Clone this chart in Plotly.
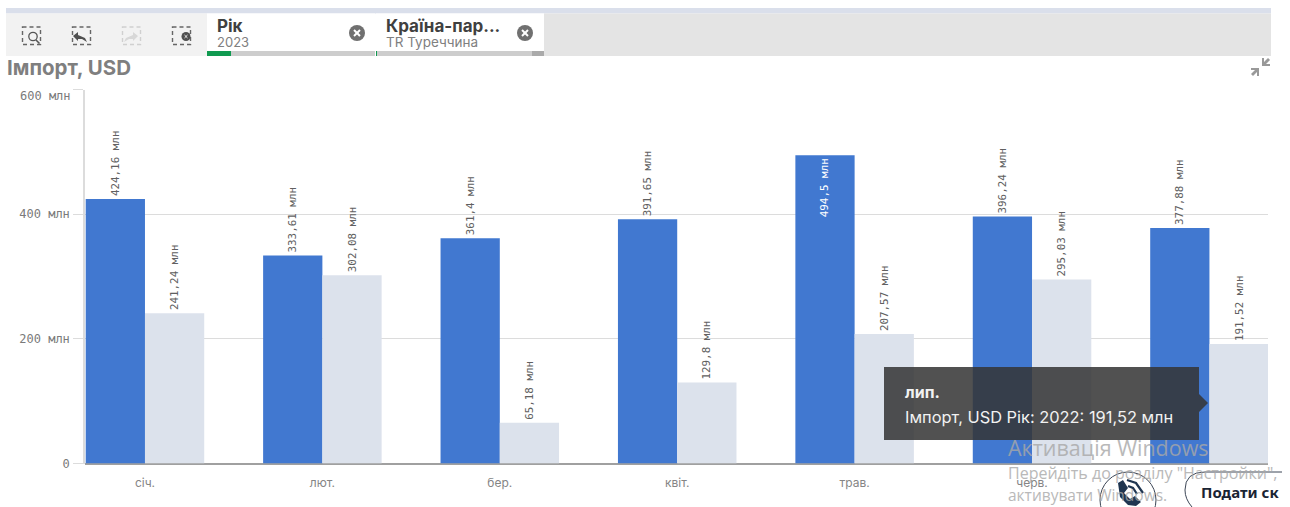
import plotly.graph_objects as go

W, H = 1290, 507

months = ["січ.", "лют.", "бер.", "квіт.", "трав.", "черв.", "лип."]
visible_months = ["січ.", "лют.", "бер.", "квіт.", "трав.", "черв."]
import_2023 = [424.16, 333.61, 361.4, 391.65, 494.5, 396.24, 377.88]
import_2022 = [241.24, 302.08, 65.18, 129.8, 207.57, 295.03, 191.52]
labels_2023 = ["424,16 млн", "333,61 млн", "361,4 млн", "391,65 млн", "494,5 млн", "396,24 млн", "377,88 млн"]
labels_2022 = ["241,24 млн", "302,08 млн", "65,18 млн", "129,8 млн", "207,57 млн", "295,03 млн", "191,52 млн"]
y_ticks = [0, 200, 400, 600]
y_tick_labels = ["0", "200 млн", "400 млн", ""]

BLUE = "#4178d0"
LIGHT = "#dce2ec"
MONO = "DejaVu Sans Mono"
SANS = "Inter"


def px(x):
    return x / W


def py(y):
    return 1 - y / H


shapes = []
annotations = []


def rect(x0, y0, x1, y1, fill, line=None, width=0, dash=None):
    shapes.append(dict(type="rect", xref="paper", yref="paper", x0=px(x0), x1=px(x1), y0=py(y0), y1=py(y1),
                       fillcolor=fill, line=dict(color=line or "rgba(0,0,0,0)", width=width, dash=dash)))


def circle(cx, cy, r, fill, line=None, width=0):
    shapes.append(dict(type="circle", xref="paper", yref="paper", x0=px(cx - r), x1=px(cx + r), y0=py(cy - r), y1=py(cy + r),
                       fillcolor=fill, line=dict(color=line or "rgba(0,0,0,0)", width=width)))


def path(points, fill=None, line=None, width=0, close=True):
    d = "M " + " L ".join(f"{px(x):.5f},{py(y):.5f}" for x, y in points) + (" Z" if close else "")
    shapes.append(dict(type="path", xref="paper", yref="paper", path=d,
                       fillcolor=fill or "rgba(0,0,0,0)", line=dict(color=line or "rgba(0,0,0,0)", width=width)))


def text(x, y, s, size, color, bold=False, family=SANS, anchor="left", opacity=1):
    annotations.append(dict(xref="paper", yref="paper", x=px(x), y=py(y), text=f"<b>{s}</b>" if bold else s,
                            showarrow=False, xanchor=anchor, yanchor="middle", opacity=opacity,
                            font=dict(size=size, color=color, family=family), borderpad=0, borderwidth=0))


# toolbar
rect(6, 8, 1271, 13.5, "#dadfeb")
rect(6, 13.5, 207, 56, "#f2f2f2")
rect(544, 13.5, 1271, 56, "#e4e4e4")
rect(207, 13.5, 375, 51, "#ffffff")
rect(376, 13.5, 544, 51, "#ffffff")
rect(207, 51, 375, 56, "#cdcdcd")
rect(376, 51, 544, 56, "#cdcdcd")
rect(207, 51, 231, 56, "#109a50")
rect(376, 51, 377, 56, "#109a50")
rect(532, 51, 544, 56, "#aaaaaa")
for x0, color in [(22.5, "#666666"), (72.5, "#666666"), (122.5, "#d0d0d0"), (172.5, "#666666")]:
    rect(x0, 27, x0 + 18, 44.5, "rgba(0,0,0,0)", color, 1.4, "4px,3px")
circle(33, 36.5, 4.2, "rgba(0,0,0,0)", "#555555", 1.3)
path([(36, 40), (39.5, 43.5)], line="#555555", width=1.6, close=False)
path([(73, 36), (78, 32), (78, 35), (85, 38), (87, 42), (82, 39), (78, 39), (78, 41)], fill="#505050")
path([(138, 36), (133, 32), (133, 35), (126, 38), (124, 42), (129, 39), (133, 39), (133, 41)], fill="#d8d8d8")
circle(186, 36.5, 4.5, "#505050")
path([(184.5, 35), (187.5, 38)], line="#f2f2f2", width=1, close=False)
path([(184.5, 38), (187.5, 35)], line="#f2f2f2", width=1, close=False)
text(217, 26, "Рік", 17, "#404040", bold=True)
text(217, 42.5, "2023", 13, "#808080")
text(386, 26, "Країна-пар...", 17, "#404040", bold=True)
text(386, 42.5, "TR Туреччина", 13.5, "#808080")
for cx in (357, 525):
    circle(cx, 33, 8, "#707070")
    path([(cx - 3, 30), (cx + 3, 36)], line="#ffffff", width=2, close=False)
    path([(cx - 3, 36), (cx + 3, 30)], line="#ffffff", width=2, close=False)

# chart title and expand icon
text(7, 67, "Імпорт, USD", 20.5, "#7f7f7f", bold=True)
path([(1262, 66), (1270, 66), (1270, 64), (1266, 64), (1270, 60), (1268, 58), (1264, 62), (1264, 58), (1262, 58)], fill="#999999")
path([(1259, 68), (1251, 68), (1251, 70), (1255, 70), (1251, 74), (1253, 76), (1257, 72), (1257, 76), (1259, 76)], fill="#999999")
text(71, 96, "600 млн", 12, "#7a7a7a", family=MONO, anchor="right")

# tooltip
rect(884, 367, 1199, 440, "rgba(52,52,52,0.86)")
path([(1199, 394), (1208, 403), (1199, 412)], fill="rgba(52,52,52,0.86)")
text(905, 392, "лип.", 16, "#f2f2f2", bold=True)
text(905, 417, "Імпорт, USD Рік: 2022: 191,52 млн", 16.4, "#f2f2f2")

# desktop overlay
text(1008, 447, "Активація Windows", 21.5, "#a8a8a8", opacity=0.8, family="Open Sans")
text(1008, 473, "Перейдіть до розділу \"Настройки\",", 16, "#a8a8a8", opacity=0.8, family="Open Sans")
text(1008, 495, "активувати Windows.", 15.5, "#a8a8a8", opacity=0.8, family="Open Sans")
circle(1128, 500, 28, "rgba(255,255,255,0)", "#3c4656", 1)
path([(1118, 483), (1123, 480), (1128, 488), (1124, 493), (1130, 499), (1135, 496), (1141, 502), (1136, 506), (1128, 505), (1120, 497)], fill="#1f3550")
path([(1127, 480), (1136, 483), (1143, 493)], line="#1f3550", width=2.2, close=False)
path([(1128, 486), (1133, 488), (1137, 494)], line="#1f3550", width=2.2, close=False)
shapes.append(dict(type="path", xref="paper", yref="paper",
                   path=f"M {px(1282):.5f},{py(472):.5f} L {px(1205):.5f},{py(472):.5f} Q {px(1185):.5f},{py(472):.5f} {px(1185):.5f},{py(490):.5f} Q {px(1185):.5f},{py(499):.5f} {px(1192):.5f},{py(507):.5f}",
                   line=dict(color="#3c4656", width=1)))
text(1201, 492, "Подати ск", 15, "#1a2433", bold=True, family="Noto Sans")

fig = go.Figure()
fig.add_bar(name="2023", x=months, y=import_2023, marker_color=BLUE, marker_line_width=0,
            text=labels_2023, textangle=-90,
            textposition=["outside", "outside", "outside", "outside", "inside", "outside", "outside"],
            insidetextanchor="end",
            textfont=dict(family=MONO, size=10.9,
                          color=["#606060"] * 4 + ["#ffffff"] + ["#606060"] * 2),
            constraintext="none", cliponaxis=False, hoverinfo="skip")
fig.add_bar(name="2022", x=months, y=import_2022, marker_color=LIGHT, marker_line_width=0,
            text=labels_2022, textangle=-90, textposition="outside",
            textfont=dict(family=MONO, size=10.9, color="#606060"),
            constraintext="none", cliponaxis=False, hoverinfo="skip")

fig.update_layout(
    width=W, height=H, autosize=False, barmode="group", bargap=0.332, bargroupgap=0,
    showlegend=False, paper_bgcolor="#ffffff", plot_bgcolor="#ffffff",
    margin=dict(l=0, r=0, t=0, b=0, autoexpand=False),
    font=dict(family=MONO, color="#6f6f6f"),
    shapes=shapes, annotations=annotations,
    xaxis=dict(domain=[px(85), px(1268)], type="category", categoryorder="array", categoryarray=months,
               range=[-0.338, 6.33], tickmode="array", tickvals=visible_months, ticktext=visible_months,
               ticks="", showgrid=False, showline=False, zeroline=False,
               tickfont=dict(size=12, family=SANS, color="#858585"), ticklabelstandoff=10),
    yaxis=dict(domain=[py(463.5), py(89.5)], range=[0, 600], tickmode="array", tickvals=y_ticks, ticktext=y_tick_labels,
               ticks="outside", ticklen=10, tickcolor="#dcdcdc", tickwidth=1.3,
               gridcolor="#dcdcdc", gridwidth=1.3, showline=True, linecolor="#dcdcdc", linewidth=1.5,
               zeroline=True, zerolinecolor="#a0a0a0", zerolinewidth=1.5,
               tickfont=dict(size=12, family=MONO, color="#7a7a7a"), ticklabelstandoff=1),
)

fig.write_html("out.html", config=dict(displayModeBar=False, responsive=False),
               post_script="document.body.style.margin='0';document.body.style.overflow='hidden';")
